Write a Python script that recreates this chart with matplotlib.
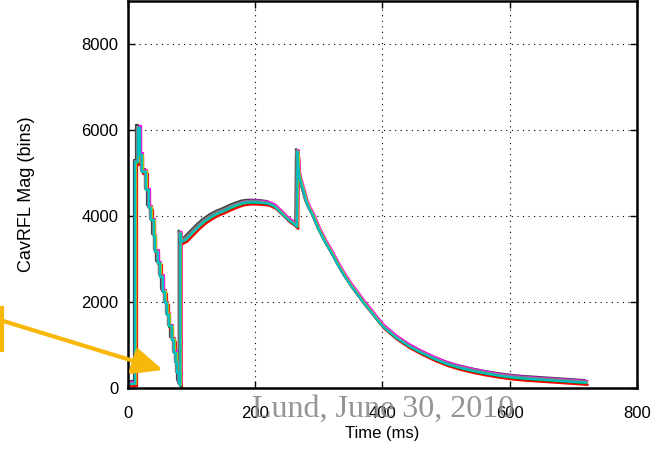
import numpy as np
import matplotlib
matplotlib.use('Agg')
from matplotlib import pyplot as plt

# filling pulse (stair-stepped in the record), ms / bins
fill_t = [0, 11, 15, 17.5, 21.5, 28, 32, 36, 40, 42, 46, 50, 54, 58, 61, 64, 68.5, 72,
          75, 77, 79, 81.6]
fill_mag = [90, 5250, 6050, 5420, 5030, 4600, 4190, 3900, 3520, 3170, 2900, 2590, 2240,
            1970, 1700, 1430, 1120, 810, 580, 350, 120, 60]

# flat top, beam and decay, ms / bins
flat_t = [81.6, 81.6, 83, 90, 100, 110, 120, 130, 140, 150, 160, 170, 180, 190, 200, 210,
          220, 230, 240, 250, 260, 265, 266, 268, 270, 275, 280, 285, 290, 300, 310, 320,
          330, 340, 350, 360, 370, 380, 390, 400, 420, 440, 460, 480, 500, 520, 540, 560,
          580, 600, 620, 640, 660, 680, 700, 720]
flat_mag = [60, 3600, 3400, 3450, 3600, 3750, 3880, 3980, 4060, 4120, 4190, 4250, 4300,
            4320, 4320, 4310, 4290, 4220, 4080, 3930, 3820, 3750, 5500, 5000, 4850, 4600,
            4330, 4150, 4020, 3670, 3380, 3130, 2850, 2600, 2380, 2180, 1980, 1800, 1610,
            1430, 1180, 980, 820, 680, 560, 470, 400, 340, 290, 250, 220, 200, 180, 160,
            140, 120]

# the shots, slightly shifted from each other
colors = ['#404040', 'blue', 'red', 'green', 'magenta', 'y', '#808080', 'c']
dt = [-2, 0, 2.5, 1, 2, 1.5, -1, 0.5]
dv = [60, 20, -50, -10, 40, 10, 30, 0]

fig = plt.figure(figsize=(6.64, 4.51), dpi=100)
ax = fig.add_axes([0.193, 0.14, 0.766, 0.857])

for c, a, b in zip(colors, dt, dv):
    ax.plot(np.array(fill_t) + a, np.array(fill_mag) + b, color=c, lw=1.6,
            drawstyle='steps-post')
    ax.plot(np.array(flat_t) + a, np.array(flat_mag) + b, color=c, lw=1.6)

ax.set_xlim(0, 800)
ax.set_ylim(0, 9000)
ax.set_xticks([0, 200, 400, 600, 800])
ax.set_yticks([0, 2000, 4000, 6000, 8000])
ax.grid(True, color='black', linestyle=(0, (1, 4)), linewidth=0.8)
ax.tick_params(direction='in', top=True, right=True, length=5, width=1,
               labelsize=12)
ax.tick_params(axis='x', pad=13)
ax.tick_params(axis='y', pad=7)
for sp in ax.spines.values():
    sp.set_linewidth(1.8)
for lab in ax.get_xticklabels() + ax.get_yticklabels():
    lab.set_family('Liberation Sans')
ax.set_xlabel('Time (ms)', fontsize=12, family='Liberation Sans', labelpad=4)
ax.set_ylabel('CavRFL Mag (bins)', fontsize=13, family='Liberation Sans', labelpad=33)

# yellow arrow and the cut-off box edge
orange = '#F7B80A'
fig.add_artist(plt.Line2D([0.003, 0.003], [1 - 308 / 451, 1 - 350 / 451],
                          transform=fig.transFigure, color=orange, lw=3))
ax.annotate('', xy=(163 / 664, 1 - 370 / 451), xycoords='figure fraction',
            xytext=(0.0, 1 - 320 / 451), textcoords='figure fraction',
            arrowprops=dict(arrowstyle='-|>,head_length=1.8,head_width=0.8',
                            color=orange, lw=3, shrinkA=0, shrinkB=0))

fig.text(383 / 664, 1 - 409 / 451, 'Lund, June 30, 2010', ha='center', va='center',
         fontsize=23, family='Liberation Serif', color='#888888', alpha=0.9)

fig.savefig('out.png', dpi=100)
